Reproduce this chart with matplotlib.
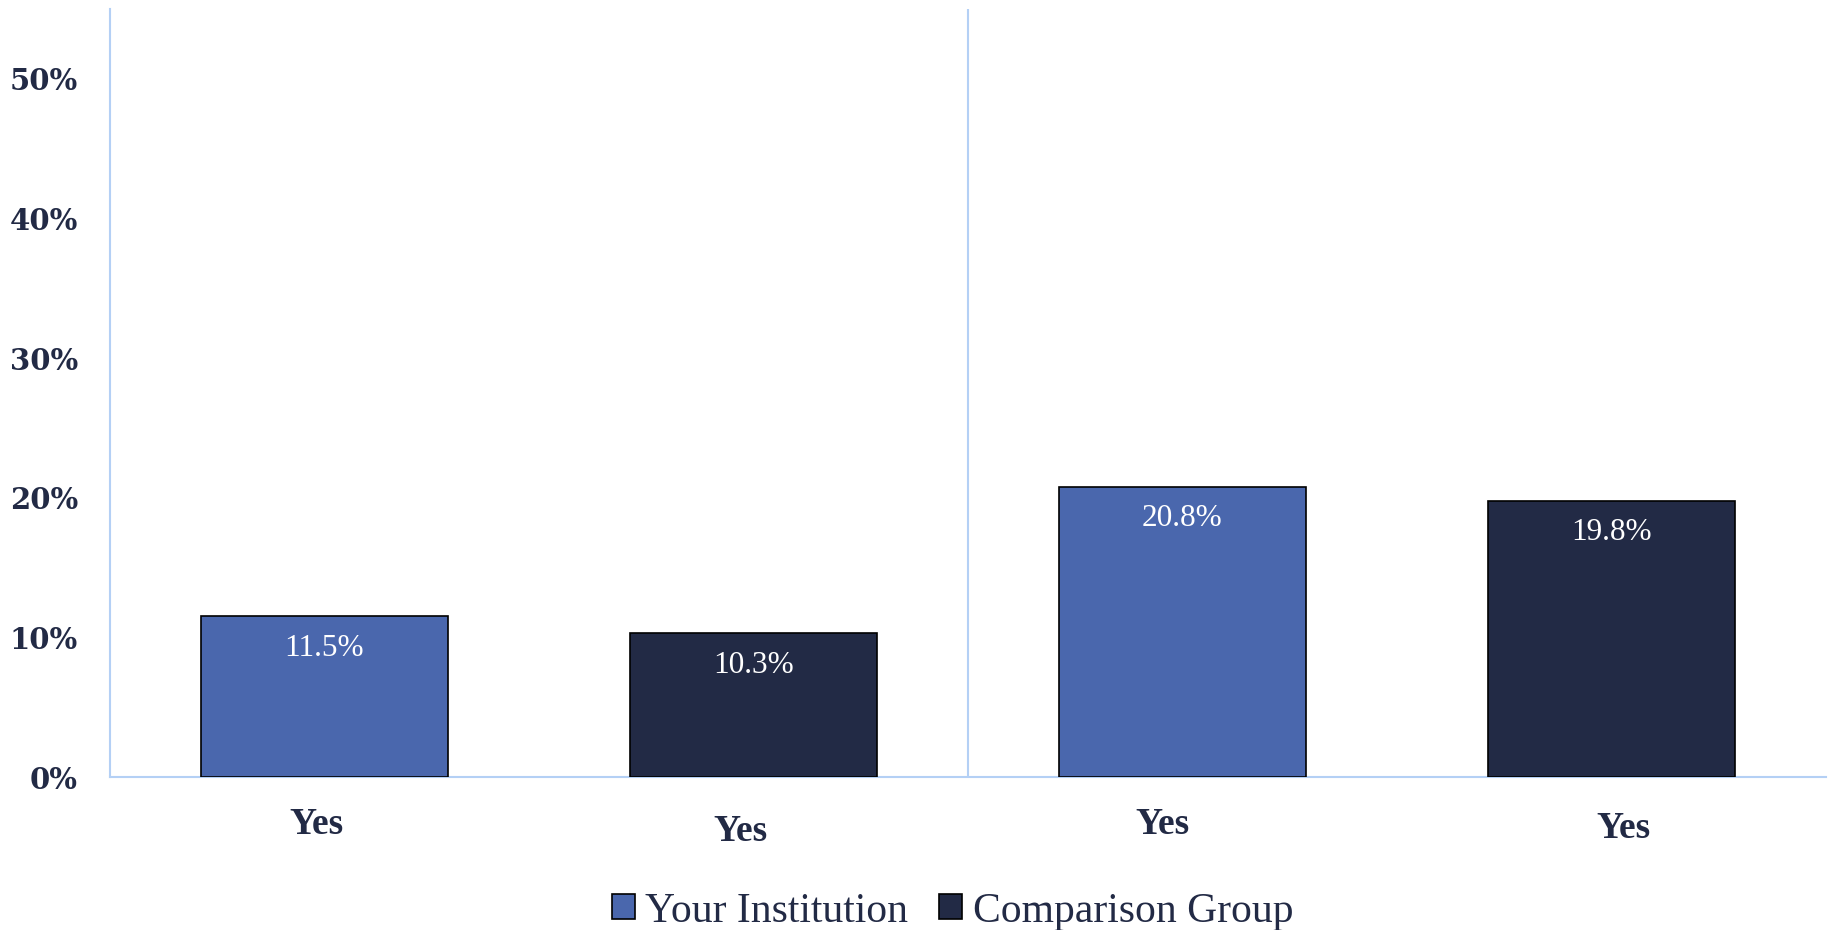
import matplotlib
matplotlib.use("Agg")
import matplotlib.pyplot as plt
from matplotlib.patches import Patch

categories = ["Yes", "Yes", "Yes", "Yes"]
series_names = ["Your Institution", "Comparison Group"]
values = [11.5, 10.3, 20.8, 19.8]
series_of_bar = [0, 1, 0, 1]
value_labels = ["11.5%", "10.3%", "20.8%", "19.8%"]
y_ticks = [0, 10, 20, 30, 40, 50]
y_tick_labels = ["0%", "10%", "20%", "30%", "40%", "50%"]

colors = ["#4A67AD", "#222A45"]
text_color = "#222A45"
axis_color = "#B4D0F5"

fig = plt.figure(figsize=(18.35, 9.30), dpi=100)
ax = fig.add_axes([0.0599, 0.1645, 0.9351, 0.8258])

x = list(range(len(values)))
bars = ax.bar(x, values, width=0.576,
              color=[colors[s] for s in series_of_bar],
              edgecolor="black", linewidth=1.2, zorder=3)

for b, lab in zip(bars, value_labels):
    ax.annotate(lab, xy=(b.get_x() + b.get_width() / 2, b.get_height()),
                xytext=(0, -23), textcoords="offset points",
                ha="center", va="center", color="white",
                fontsize=22.5, family="Liberation Serif", zorder=4)

ax.set_xlim(-0.5, len(values) - 0.5)
ax.set_ylim(0, 55)
ax.set_yticks(y_ticks)
ax.set_yticklabels(y_tick_labels, fontsize=21, fontweight="bold",
                   family="DejaVu Serif", color=text_color)
ax.tick_params(axis="y", length=0, pad=23)
ax.set_xticks([])

for side in ["top", "right"]:
    ax.spines[side].set_visible(False)
for side in ["left", "bottom"]:
    ax.spines[side].set_color(axis_color)
    ax.spines[side].set_linewidth(1.5)

# group separator
ax.axvline(1.5, color=axis_color, linewidth=1.5, zorder=1)

# category labels (slightly offset like the reference)
x_off = [-6, -9, -14, 9]
y_off = [-34, -39, -34, -37]
for xi, cat, dx, dy in zip(x, categories, x_off, y_off):
    ax.annotate(cat, xy=(xi, 0), xycoords=("data", "axes fraction"),
                xytext=(dx, dy), textcoords="offset points",
                ha="center", va="center", fontsize=27, fontweight="bold",
                family="Liberation Serif", color=text_color, annotation_clip=False)

handles = [Patch(facecolor=colors[i], edgecolor="black", linewidth=1.2)
           for i in range(len(series_names))]
fig.legend(handles, series_names, loc="center", bbox_to_anchor=(0.519, 0.02),
           ncol=2, frameon=False, handlelength=0.55, handleheight=0.55,
           handletextpad=0.25, columnspacing=0.75,
           prop={"family": "Liberation Serif", "size": 30},
           labelcolor=text_color)

fig.savefig("out.png", dpi=100, facecolor="white")
